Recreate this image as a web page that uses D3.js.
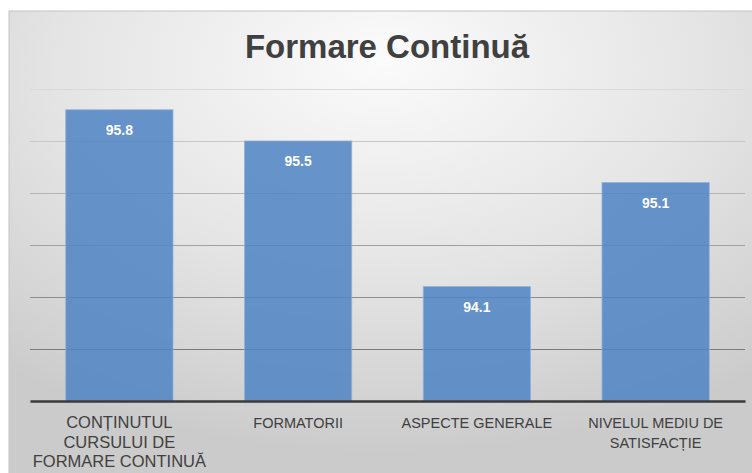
<!DOCTYPE html>
<html>
<head>
<meta charset="utf-8">
<script src="https://cdn.jsdelivr.net/npm/d3@7"></script>
<style>
  body { margin: 0; background: #fff; }
  svg { display: block; font-family: "Liberation Sans", Arial, sans-serif; }
</style>
</head>
<body>
<div id="chart"></div>
<script>
// chart data
var title = "Formare Continuă";
var categories = [
  "CONȚINUTUL\nCURSULUI DE\nFORMARE CONTINUĂ",
  "FORMATORII",
  "ASPECTE GENERALE",
  "NIVELUL MEDIU DE\nSATISFACȚIE"
];
var values = [95.8, 95.5, 94.1, 95.1];
var yTicks = [93, 93.5, 94, 94.5, 95, 95.5, 96];

var svgWidth = 752;
var svgHeight = 473;

var margin = { top: 89, right: 7, bottom: 72, left: 30 };
var width = svgWidth - margin.left - margin.right;
var height = svgHeight - margin.top - margin.bottom;

var svg = d3.select("#chart")
  .append("svg")
  .attr("width", svgWidth)
  .attr("height", svgHeight);

// gray panel with soft radial shading
var defs = svg.append("defs");
var grad = defs.append("radialGradient")
  .attr("id", "panelGrad")
  .attr("cx", "50%").attr("cy", "15%").attr("r", "80%")
  .attr("fx", "50%").attr("fy", "10%");
grad.append("stop").attr("offset", "0%").attr("stop-color", "#fbfbfb");
grad.append("stop").attr("offset", "55%").attr("stop-color", "#e4e4e4");
grad.append("stop").attr("offset", "100%").attr("stop-color", "#cbcbcb");

svg.append("rect")
  .attr("x", 9).attr("y", 11)
  .attr("width", svgWidth - 9 + 5)
  .attr("height", svgHeight - 11 + 5)
  .attr("fill", "url(#panelGrad)")
  .attr("stroke", "#c4c4c4")
  .attr("stroke-width", 1);

svg.append("text")
  .attr("x", 387)
  .attr("y", 58)
  .attr("text-anchor", "middle")
  .attr("font-size", "33px")
  .attr("font-weight", "bold")
  .attr("fill", "#404040")
  .text(title);

var chartGroup = svg.append("g")
  .attr("transform", `translate(${margin.left}, ${margin.top})`);

var xBandScale = d3.scaleBand()
  .domain(categories)
  .range([0, width])
  .paddingInner(0.4)
  .paddingOuter(0.2);

var yLinearScale = d3.scaleLinear()
  .domain([93, 96])
  .range([height, 0]);

// gridlines, darker toward the bottom
var gridColor = d3.interpolateRgb("#dadada", "#7a7a7a");
chartGroup.selectAll(".grid")
  .data(yTicks.slice(1))
  .enter()
  .append("line")
  .attr("class", "grid")
  .attr("x1", 0)
  .attr("x2", width)
  .attr("y1", d => Math.round(yLinearScale(d)) + 0.5)
  .attr("y2", d => Math.round(yLinearScale(d)) + 0.5)
  .attr("stroke", (d, i) => gridColor(1 - i / (yTicks.length - 2)))
  .attr("stroke-width", 1.2);

chartGroup.selectAll(".bar")
  .data(values)
  .enter()
  .append("rect")
  .attr("class", "bar")
  .attr("x", (d, i) => xBandScale(categories[i]))
  .attr("y", d => yLinearScale(d))
  .attr("width", xBandScale.bandwidth())
  .attr("height", d => height - yLinearScale(d))
  .attr("fill", "#4f84c2")
  .attr("fill-opacity", 0.86)
  .attr("stroke", "#8fb1da")
  .attr("stroke-width", 0.8);

chartGroup.selectAll(".val")
  .data(values)
  .enter()
  .append("text")
  .attr("class", "val")
  .attr("x", (d, i) => xBandScale(categories[i]) + xBandScale.bandwidth() / 2)
  .attr("y", d => yLinearScale(d) + 25)
  .attr("text-anchor", "middle")
  .attr("font-size", "14px")
  .attr("font-weight", "bold")
  .attr("fill", "#ffffff")
  .text(d => d.toFixed(1));

// baseline axis
var bottomAxis = d3.axisBottom(xBandScale).tickSize(0).tickFormat("");
var axisG = chartGroup.append("g")
  .attr("transform", `translate(0, ${height})`)
  .call(bottomAxis);
axisG.select(".domain")
  .attr("stroke", "#3a3a3a")
  .attr("stroke-width", 2.5);

// category labels (first one is set a bit larger, as in the source)
categories.forEach(function(c, i) {
  var cx = xBandScale(c) + xBandScale.bandwidth() / 2;
  var t = chartGroup.append("text")
    .attr("x", cx)
    .attr("y", height + 27)
    .attr("text-anchor", "middle")
    .attr("font-size", i === 0 ? "16.5px" : "14.5px")
    .attr("fill", "#404040");
  c.split("\n").forEach(function(line, j) {
    t.append("tspan")
      .attr("x", cx)
      .attr("dy", j === 0 ? 0 : 19.5)
      .text(line);
  });
});
</script>
</body>
</html>
